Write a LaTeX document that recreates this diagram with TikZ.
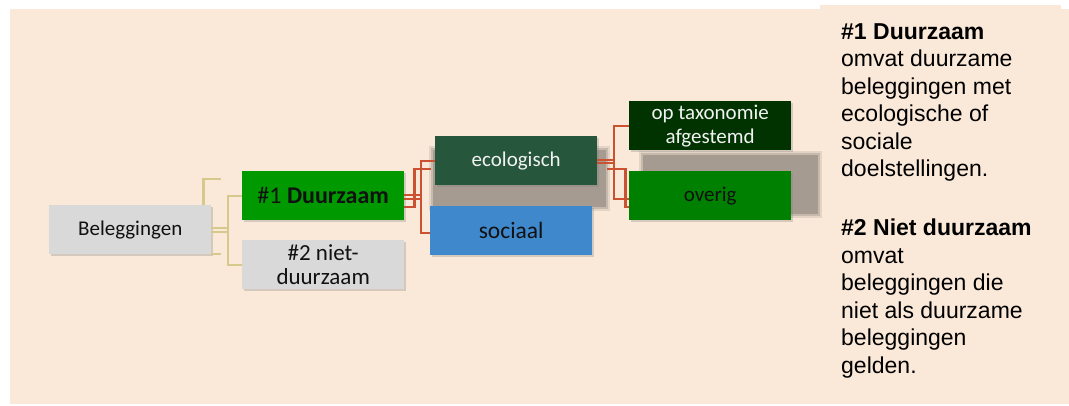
\documentclass[tikz,border=0pt]{standalone}
\usepackage{fontspec}
\setmainfont{Liberation Sans}
\newfontfamily\carl{Carlito}
\usetikzlibrary{shadows}
\definecolor{bgc}{HTML}{FAE8D8}
\definecolor{greybox}{HTML}{D9D9D9}
\definecolor{greenA}{HTML}{009900}
\definecolor{ecoc}{HTML}{26573C}
\definecolor{socc}{HTML}{3F88CC}
\definecolor{taxc}{HTML}{003300}
\definecolor{ovec}{HTML}{008000}
\definecolor{shadc}{HTML}{A59B90}
\definecolor{tanc}{HTML}{D6C98C}
\definecolor{redc}{HTML}{CB5230}
\definecolor{txtc}{HTML}{111111}
\begin{document}
\begin{tikzpicture}[x=1pt,y=-1pt,
  box/.style={anchor=north west, minimum width=162pt, minimum height=49pt, inner sep=0pt,
    align=center, text=txtc, font=\carl\fontsize{21}{24}\selectfont,
    drop shadow={opacity=0.3, shadow xshift=2pt, shadow yshift=-2pt}},
  tanline/.style={draw=tanc, line width=2.3pt},
  redline/.style={draw=redc, line width=2.3pt},
  ptxt/.style={anchor=base west, inner sep=0pt, text=black, font=\fontsize{23}{27.5}\selectfont}
]
\useasboundingbox (0,0) rectangle (1069,405);
\fill[white] (0,0) rectangle (1069,405);
\fill[bgc] (10,9) rectangle (1069,404);
\fill[bgc] (820,5) rectangle (1061,404);

% soft grey shadows
\foreach \o/\a in {4/0.25,2/0.45,0/1}{
  \fill[shadc, opacity=\a] (433-\o,150-\o) rectangle (606+\o,207+\o);
  \fill[shadc, opacity=\a] (643-\o,155-\o) rectangle (818+\o,214+\o);
}

% boxes
\node[box, fill=greybox] (bel) at (49,205) {Beleggingen};
\node[box, fill=greenA, font=\carl\fontsize{24}{26}\selectfont] (d1) at (242,171) {\#1 \textbf{Duurzaam}};
\node[box, fill=greybox, font=\carl\fontsize{23}{24}\selectfont] (d2) at (242,240) {\#2 niet-\\duurzaam};
\node[box, fill=ecoc, text=white!95!black] (eco) at (435,136) {ecologisch};
\node[box, fill=socc, font=\carl\fontsize{23.5}{24}\selectfont] (soc) at (430,206) {sociaal};
\node[box, fill=taxc, text=white!95!black] (tax) at (629,101) {op taxonomie\\afgestemd};
\node[box, fill=ovec] (ove) at (629,171) {overig};

% tan connectors
\draw[tanline] ([yshift=1.5pt]bel.east) -- ++(17,0);
\draw[tanline] ([yshift=-2pt]bel.east) -- ++(17,0);
\draw[tanline] (d1.west) -- ++(-14,0) |- (d2.west);
\draw[tanline] ([xshift=-8pt]bel.north east) -- ++(0,-26) -- ++(18,0);
\draw[tanline] ([yshift=0.5pt]bel.south east) -- ++(10,0);

% red connectors
\draw[redline] ([yshift=0.5pt]d1.east) -- ++(18,0);
\draw[redline] ([yshift=-3pt]d1.east) -- ++(18,0);
\draw[redline] (eco.west) -- ++(-14,0) |- ([yshift=-2pt]soc.west);
\draw[redline] ([yshift=-11.5pt]d1.east) -- ++(10,0) -- ++(0,-38) -- ++(17,0);
\draw[redline] ([yshift=0.5pt]eco.east) -- ++(18,0);
\draw[redline] ([yshift=-2pt]eco.east) -- ++(18,0);
\draw[redline] (tax.west) -- ++(-15,0) |- ([yshift=-3pt]ove.west);
\draw[redline] ([xshift=10pt,yshift=-8pt]eco.east) -- ++(18,0) |- ([yshift=-11.5pt]ove.west);

% right panel text
\node[ptxt] (t1) at (841,39) {\textbf{\#1 Duurzaam}};
\node[ptxt] (t2) at (841,66.5) {omvat duurzame};
\node[ptxt] (t3) at (841,94) {beleggingen met};
\node[ptxt] (t4) at (841,121.5) {ecologische of};
\node[ptxt] (t5) at (841,149) {sociale};
\node[ptxt] (t6) at (841,176.5) {doelstellingen.};
\node[ptxt] (u1) at (841,235.5) {\textbf{\#2 Niet duurzaam}};
\node[ptxt] (u2) at (841,263) {omvat};
\node[ptxt] (u3) at (841,290.5) {beleggingen die};
\node[ptxt] (u4) at (841,318) {niet als duurzame};
\node[ptxt] (u5) at (841,345.5) {beleggingen};
\node[ptxt] (u6) at (841,373) {gelden.};
\end{tikzpicture}
\end{document}
